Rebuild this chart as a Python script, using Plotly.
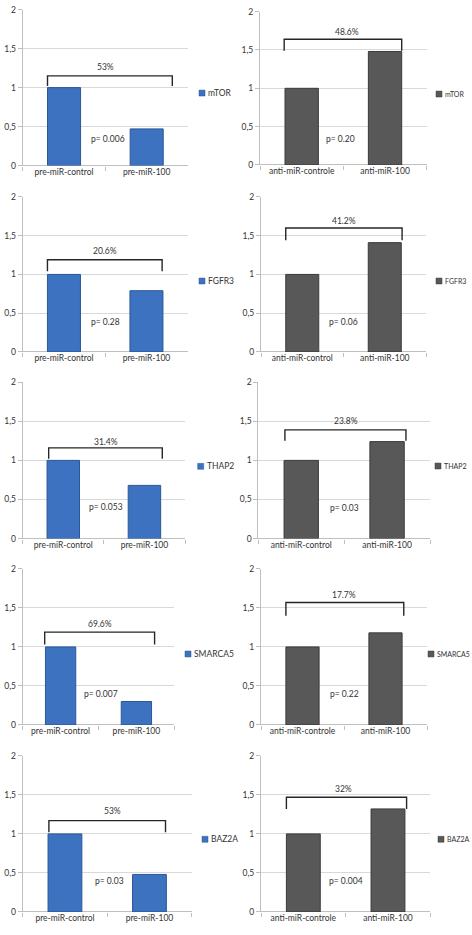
import plotly.graph_objects as go

# ---------------- data ----------------
genes = ["mTOR", "FGFR3", "THAP2", "SMARCA5", "BAZ2A"]
pre_categories = ["pre-miR-control", "pre-miR-100"]
anti_categories = [
    ["anti-miR-controle", "anti-miR-100"],
    ["anti-miR-control", "anti-miR-100"],
    ["anti-miR-control", "anti-miR-100"],
    ["anti-miR-controle", "anti-miR-100"],
    ["anti-miR-controle", "anti-miR-100"],
]
pre_control = [1.0, 1.0, 1.0, 1.0, 1.0]
pre_100 = [0.47, 0.79, 0.68, 0.30, 0.48]
anti_control = [1.0, 1.0, 1.0, 1.0, 1.0]
anti_100 = [1.48, 1.41, 1.24, 1.18, 1.32]
pre_pct = ["53%", "20.6%", "31.4%", "69.6%", "53%"]
anti_pct = ["48.6%", "41.2%", "23.8%", "17.7%", "32%"]
pre_p = ["p= 0.006", "p= 0.28", "p= 0.053", "p= 0.007", "p= 0.03"]
anti_p = ["p= 0.20", "p= 0.06", "p= 0.03", "p= 0.22", "p= 0.004"]
y_tickvals = [0, 0.5, 1, 1.5, 2]
y_ticktext = ["0", "0,5", "1", "1,5", "2"]

# ---------------- layout config (pixels / data units) ----------------
W, H = 472, 935
# plot areas in pixels: (left, right, top, bottom)
pre_boxes = [(22.7, 188, 4.7, 162.3), (22.7, 187.7, 194, 350.7), (22.7, 185, 381.3, 539.3),
             (22.7, 174.3, 570, 727.7), (22.7, 191.7, 759, 916.7)]
anti_boxes = [(260, 426.7, 6.7, 161.7), (261, 426, 194, 350.7), (258.3, 430, 381.3, 539.3),
              (261, 427, 570, 727.7), (261, 430.3, 759, 916.7)]
# brackets: (x_left, x_right, y_top, y_leg) in category / data units
pre_brackets = [(-0.2, 1.31, 1.15, 1.02), (-0.2, 1.19, 1.19, 1.04), (-0.18, 1.22, 1.16, 1.02),
                (-0.21, 1.24, 1.19, 1.03), (-0.19, 1.19, 1.17, 1.02)]
anti_brackets = [(-0.21, 1.2, 1.64, 1.49), (-0.2, 1.21, 1.60, 1.44), (-0.19, 1.22, 1.39, 1.25),
                 (-0.2, 1.22, 1.57, 1.40), (-0.2, 1.22, 1.47, 1.32)]
pre_pct_pos = [(0.5, 1.26), (0.5, 1.30), (0.53, 1.24), (0.52, 1.29), (0.56, 1.29)]
anti_pct_pos = [(0.54, 1.74), (0.5, 1.69), (0.52, 1.51), (0.5, 1.66), (0.47, 1.58)]
pre_p_pos = [(0.53, 0.34), (0.5, 0.38), (0.53, 0.40), (0.53, 0.39), (0.53, 0.40)]
anti_p_pos = [(0.47, 0.34), (0.5, 0.38), (0.5, 0.39), (0.5, 0.40), (0.5, 0.40)]
pre_legend = [(199, 89), (199, 279), (197.7, 466.3), (185, 656), (202, 843.3)]
anti_legend = [(436, 90), (436, 279), (435, 466), (428, 656), (438, 843.3)]

BLUE, BLUE_EDGE = "#3c72c0", "#2a5796"
GRAY, GRAY_EDGE = "#585858", "#3a3a3a"
TEXT = "#333333"
FONT = "Lato"
FS = 8.5

fig = go.Figure()
layout = dict(
    width=W, height=H, margin=dict(l=0, r=0, t=0, b=0),
    paper_bgcolor="white", plot_bgcolor="white", showlegend=False,
    font=dict(family=FONT, size=FS, color=TEXT),
    annotations=[], shapes=[],
)

panels = []
for r in range(5):
    panels.append(dict(cats=pre_categories, vals=[pre_control[r], pre_100[r]], color=BLUE, edge=BLUE_EDGE,
                       box=pre_boxes[r], br=pre_brackets[r], pct=pre_pct[r], pctpos=pre_pct_pos[r],
                       p=pre_p[r], ppos=pre_p_pos[r], leg=pre_legend[r], gene=genes[r], lfs=8.5))
    panels.append(dict(cats=anti_categories[r], vals=[anti_control[r], anti_100[r]], color=GRAY, edge=GRAY_EDGE,
                       box=anti_boxes[r], br=anti_brackets[r], pct=anti_pct[r], pctpos=anti_pct_pos[r],
                       p=anti_p[r], ppos=anti_p_pos[r], leg=anti_legend[r], gene=genes[r], lfs=7))

for i, pn in enumerate(panels):
    n = i + 1
    xa = "x" if n == 1 else f"x{n}"
    ya = "y" if n == 1 else f"y{n}"
    l, rr, t, b = pn["box"]
    fig.add_trace(go.Bar(
        x=pn["cats"], y=pn["vals"], name=pn["gene"], width=0.4,
        marker=dict(color=pn["color"], line=dict(color=pn["edge"], width=1)),
        xaxis=xa, yaxis=ya, hoverinfo="x+y",
    ))
    xkey = "xaxis" if n == 1 else f"xaxis{n}"
    ykey = "yaxis" if n == 1 else f"yaxis{n}"
    layout[xkey] = dict(
        domain=[l / W, rr / W], anchor=ya, type="category", range=[-0.5, 1.5],
        showline=False, ticks="outside", ticklen=4, tickcolor="#bfbfbf", tickson="boundaries",
        showgrid=False, zeroline=False, tickfont=dict(family=FONT, size=FS, color=TEXT),
        fixedrange=True,
    )
    layout[ykey] = dict(
        domain=[1 - b / H, 1 - t / H], anchor=xa, range=[0, 2],
        tickvals=y_tickvals, ticktext=y_ticktext,
        showline=True, linecolor="#bfbfbf", linewidth=1,
        ticks="outside", ticklen=4, tickcolor="#bfbfbf",
        showgrid=True, gridcolor="#d9d9d9", gridwidth=1,
        zeroline=True, zerolinecolor="#bfbfbf", zerolinewidth=1,
        tickfont=dict(family=FONT, size=FS, color=TEXT), fixedrange=True,
    )
    # bracket
    x0, x1, ytop, yleg = pn["br"]
    layout["shapes"].append(dict(
        type="path", xref=xa, yref=ya,
        path=f"M {x0} {yleg} L {x0} {ytop} L {x1} {ytop} L {x1} {yleg}",
        line=dict(color="#262626", width=1.4),
    ))
    layout["annotations"].append(dict(
        xref=xa, yref=ya, x=pn["pctpos"][0], y=pn["pctpos"][1], text=pn["pct"],
        showarrow=False, font=dict(family=FONT, size=FS, color=TEXT),
    ))
    layout["annotations"].append(dict(
        xref=xa, yref=ya, x=pn["ppos"][0], y=pn["ppos"][1], text=pn["p"],
        showarrow=False, font=dict(family=FONT, size=FS, color=TEXT),
    ))
    # legend key
    lx, ly = pn["leg"]
    layout["shapes"].append(dict(
        type="rect", xref="paper", yref="paper",
        x0=lx / W, x1=(lx + 6) / W, y0=1 - (ly + 3) / H, y1=1 - (ly - 3) / H,
        fillcolor=pn["color"], line=dict(color=pn["edge"], width=0.5),
    ))
    layout["annotations"].append(dict(
        xref="paper", yref="paper", x=(lx + 7) / W, y=1 - ly / H, xanchor="left", yanchor="middle",
        text=pn["gene"], showarrow=False, font=dict(family=FONT, size=pn["lfs"], color=TEXT),
    ))

fig.update_layout(**layout)
fig.write_html(
    "out.html",
    config={"displayModeBar": False},
    post_script="document.body.style.margin='0';document.body.style.overflow='hidden';",
)
